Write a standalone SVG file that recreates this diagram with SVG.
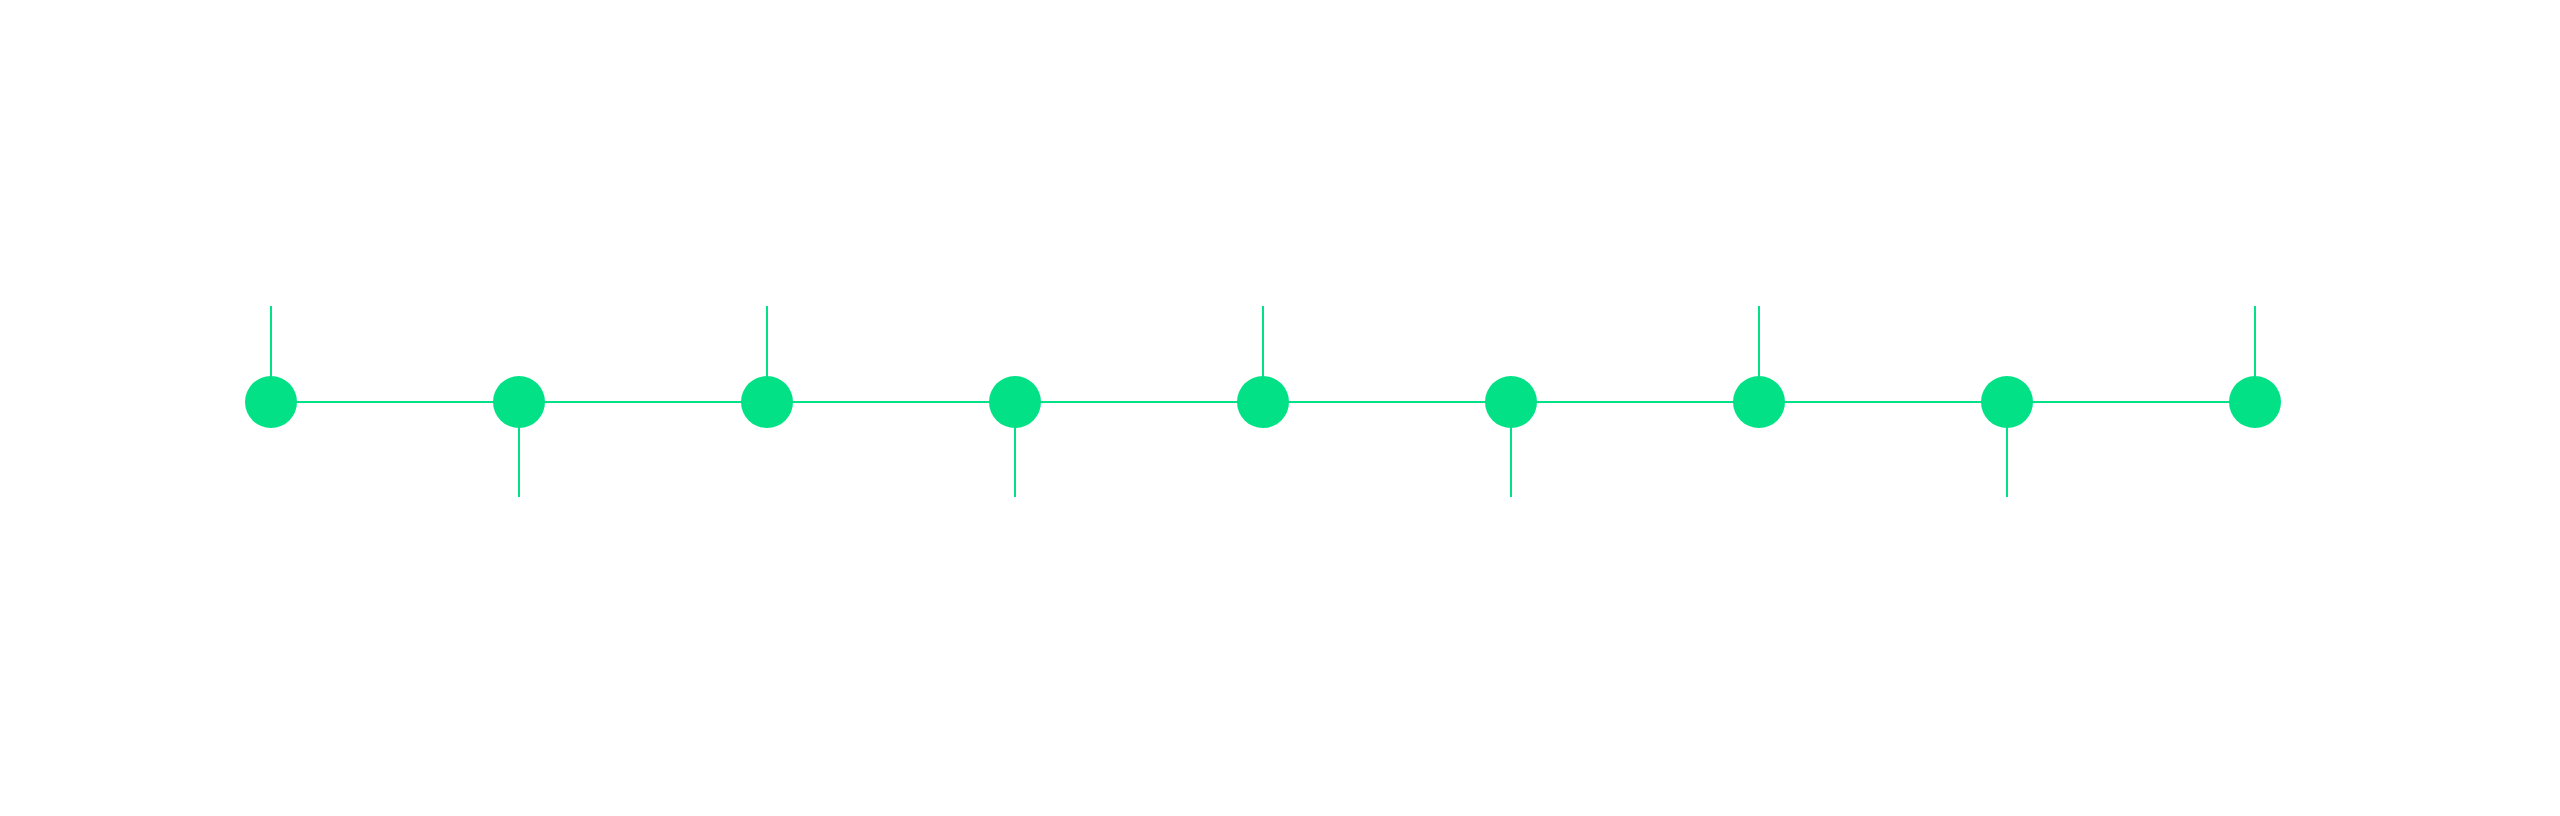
<svg xmlns="http://www.w3.org/2000/svg" width="2560" height="816" viewBox="0 0 2560 816">
<style>
.lbl{font-family:"Open Sans","Liberation Sans",sans-serif;font-size:29px;fill:#FFFFFF;text-anchor:middle}
.stem{stroke:#03E186;stroke-width:2;fill:none}
.dot{fill:#03E186}
</style>
<rect width="2560" height="816" fill="#FFFFFF"/>
<g id="connectors">
<line class="stem" x1="271" y1="402" x2="2255" y2="402"/>
<line class="stem" x1="271" y1="306" x2="271" y2="402"/>
<line class="stem" x1="519" y1="402" x2="519" y2="497"/>
<line class="stem" x1="767" y1="306" x2="767" y2="402"/>
<line class="stem" x1="1015" y1="402" x2="1015" y2="497"/>
<line class="stem" x1="1263" y1="306" x2="1263" y2="402"/>
<line class="stem" x1="1511" y1="402" x2="1511" y2="497"/>
<line class="stem" x1="1759" y1="306" x2="1759" y2="402"/>
<line class="stem" x1="2007" y1="402" x2="2007" y2="497"/>
<line class="stem" x1="2255" y1="306" x2="2255" y2="402"/>
</g>
<g id="node1"><circle class="dot" cx="271" cy="402" r="26"/><text class="lbl" x="271" y="239">Apply To</text><text class="lbl" x="271" y="279">Venture Hunt</text></g>
<g id="node2"><circle class="dot" cx="519" cy="402" r="26"/><text class="lbl" x="519" y="548">Connect with co-</text><text class="lbl" x="519" y="588">founders through</text><text class="lbl" x="519" y="629">speed dating sessions</text></g>
<g id="node3"><circle class="dot" cx="767" cy="402" r="26"/><text class="lbl" x="767" y="239">Pitch your idea</text><text class="lbl" x="767" y="279">to our judges</text></g>
<g id="node4"><circle class="dot" cx="1015" cy="402" r="26"/><text class="lbl" x="1015" y="548">Top 50 selected teams will</text><text class="lbl" x="1015" y="588">get entry in Ventureman for</text><text class="lbl" x="1015" y="629">a 10-day intensive sprint</text></g>
<g id="node5"><circle class="dot" cx="1263" cy="402" r="26"/><text class="lbl" x="1263" y="239">Build your MVP &amp; attend</text><text class="lbl" x="1263" y="279">supported sessions.</text></g>
<g id="node6"><circle class="dot" cx="1511" cy="402" r="26"/><text class="lbl" x="1511" y="548">Present at Demo Day +</text><text class="lbl" x="1511" y="588">bounty winners</text><text class="lbl" x="1511" y="629">announcement</text></g>
<g id="node7"><circle class="dot" cx="1759" cy="402" r="26"/><text class="lbl" x="1759" y="239">Become a part</text><text class="lbl" x="1759" y="279">of the cohort</text></g>
<g id="node8"><circle class="dot" cx="2007" cy="402" r="26"/><text class="lbl" x="2007" y="548">Attend workshops +</text><text class="lbl" x="2007" y="588">regular meetings</text></g>
<g id="node9"><circle class="dot" cx="2255" cy="402" r="26"/><text class="lbl" x="2255" y="239">Present your startup</text><text class="lbl" x="2255" y="279">at Investor Demo Day</text></g>
</svg>
